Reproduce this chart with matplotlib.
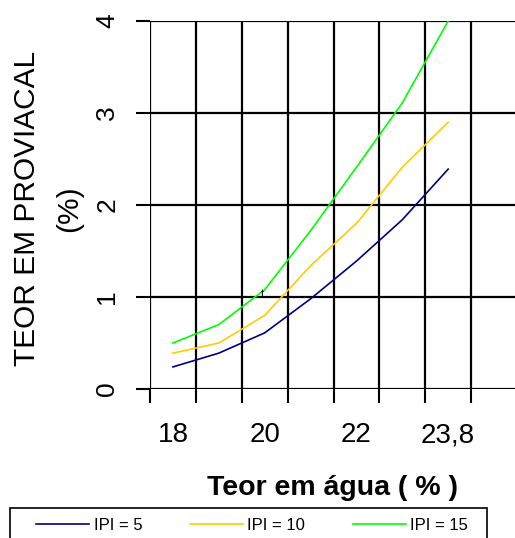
import matplotlib.pyplot as plt
from matplotlib.lines import Line2D
from matplotlib.patches import Rectangle

plt.rcParams['font.family'] = ['Liberation Sans', 'DejaVu Sans']

# Teor em agua (categories) and teor em proviacal per IPI
categorias = ['18', '19', '20', '21', '22', '23', '23,8', '']
rotulos_x = ['18', '', '20', '', '22', '', '23,8', '']
ipi_5 = [0.24, 0.39, 0.61, 0.98, 1.39, 1.84, 2.39]
ipi_10 = [0.39, 0.50, 0.80, 1.34, 1.80, 2.41, 2.90]
ipi_15 = [0.50, 0.70, 1.08, 1.72, 2.41, 3.11, 4.00]
series = [('IPI = 5', ipi_5, '#000080'),
          ('IPI = 10', ipi_10, '#FFCC00'),
          ('IPI = 15', ipi_15, '#00FF00')]

fig = plt.figure(figsize=(5.15, 5.38), dpi=100)
ax = fig.add_axes([150 / 515, 1 - 389 / 538, 367 / 515, 368 / 538])

n = len(categorias)
for nome, vals, cor in series:
    ax.plot(range(len(vals)), vals, color=cor, lw=1.2, label=nome, zorder=3)

ax.set_xlim(-0.5, n - 0.5)
ax.set_ylim(0, 4)

# grid
for xb in [i - 0.5 for i in range(n + 1)]:
    ax.axvline(xb, color='black', lw=1.6, zorder=1)
for yv in range(5):
    ax.axhline(yv, color='black', lw=1.6, zorder=1)

ax.set_xticks(range(n))
ax.set_xticklabels(rotulos_x, fontsize=20)
ax.set_xticks([i - 0.5 for i in range(n + 1)], minor=True)
ax.tick_params(axis='x', which='major', length=0, pad=24)
ax.tick_params(axis='x', which='minor', length=10, width=1.5, direction='out')

ax.set_yticks(range(5))
ax.set_yticklabels([str(v) for v in range(5)], fontsize=19, rotation=90, va='center')
ax.tick_params(axis='y', length=10, width=1.5, direction='out', pad=12)

for s in ax.spines.values():
    s.set_visible(False)

ax.set_ylabel('TEOR EM PROVIACAL\n(%)', fontsize=21.5, linespacing=1.65)
ax.yaxis.set_label_coords(-0.183, 0.49)
ax.set_xlabel('Teor em água ( % )', fontsize=20.5, fontweight='bold')
ax.xaxis.set_label_coords(0.496, -0.234)

ax.text(1.95, 1.03, 't', fontsize=8, ha='center', va='center', zorder=4)

# legend box at the bottom
fig.patches.append(Rectangle((10 / 515, -0.02), 477 / 515, 1 - 508 / 538 + 0.02,
                             transform=fig.transFigure, fill=False,
                             edgecolor='black', lw=1.2))
handles = [Line2D([], [], color=c, lw=1.2) for _, _, c in series]
fig.legend(handles, [nm for nm, _, _ in series], loc='center left',
           bbox_to_anchor=(21 / 515, 1 - 525 / 538), ncol=3, frameon=False,
           fontsize=12, handlelength=3.2, handletextpad=0.25, columnspacing=2.85)

fig.savefig('out.png', dpi=100)
